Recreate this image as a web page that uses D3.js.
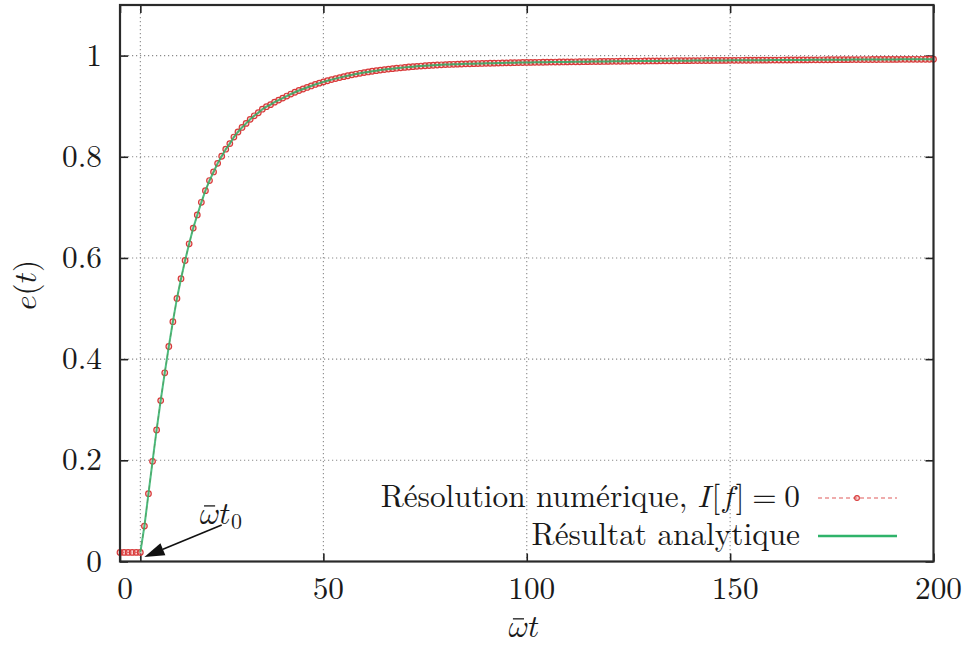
<!DOCTYPE html>
<html><head><meta charset="utf-8">
<script src="https://cdn.jsdelivr.net/npm/d3@7"></script>
<style>
html,body{margin:0;padding:0;background:#fff;}
</style></head>
<body><svg id="chart" width="966" height="646"></svg>
<script>
// ---- data ----
const tValues = d3.range(0, 201); // ω̄t sample instants (one per unit)
const eNumeric = [
  0.018,0.018,0.018,0.018,0.018,0.018,0.070,0.134,0.198,0.260,
  0.318,0.373,0.425,0.474,0.520,0.559,0.595,0.628,0.659,0.685,
  0.710,0.733,0.753,0.770,0.787,0.801,0.815,0.826,0.839,0.849,
  0.858,0.866,0.874,0.881,0.887,0.894,0.899,0.903,0.908,0.912,
  0.916,0.920,0.924,0.9275,0.931,0.934,0.937,0.940,0.943,0.9455,
  0.948,0.9503,0.9525,0.9545,0.9565,0.9584,0.9602,0.9619,0.9635,0.965,
  0.9664,0.9677,0.969,0.9702,0.9713,0.9723,0.9733,0.9742,0.9751,0.9759,
  0.9767,0.9774,0.9781,0.9787,0.9793,0.9799,0.9804,0.9809,0.9814,0.9818,
  0.9822,0.9825,0.9828,0.9831,0.9834,0.9837,0.9839,0.9841,0.9843,0.9845,
  0.9847,0.9849,0.9851,0.9853,0.9855,0.9857,0.9858,0.9859,0.9861,0.9863,
  0.9864,0.9865,0.9866,0.9867,0.9868,0.9870,0.9871,0.9872,0.9873,0.9874,
  0.9875,0.9876,0.9877,0.9878,0.9879,0.9880,0.9881,0.9882,0.9883,0.9884,
  0.9885,0.9886,0.9887,0.9888,0.9889,0.9890,0.9891,0.9891,0.9892,0.9893,
  0.9894,0.9894,0.9895,0.9896,0.9896,0.9897,0.9898,0.9898,0.9899,0.9900,
  0.9900,0.9901,0.9901,0.9902,0.9903,0.9903,0.9904,0.9904,0.9905,0.9905,
  0.9906,0.9906,0.9907,0.9907,0.9908,0.9908,0.9909,0.9909,0.9910,0.9910,
  0.9911,0.9911,0.9912,0.9912,0.9913,0.9913,0.9914,0.9914,0.9915,0.9915,
  0.9916,0.9916,0.9917,0.9917,0.9918,0.9918,0.9919,0.9919,0.9920,0.9920,
  0.9921,0.9921,0.9922,0.9922,0.9922,0.9923,0.9923,0.9924,0.9924,0.9924,
  0.9925,0.9925,0.9926,0.9926,0.9926,0.9927,0.9927,0.9927,0.9928,0.9928,
  0.9928
];
const t0 = 5;                       // onset ω̄t0
const xTicks = [0, 50, 100, 150, 200];
const xGrid = [t0, 50, 100, 150];
const yTicks = [0, 0.2, 0.4, 0.6, 0.8, 1];
const yTickLabels = ["0", "0.2", "0.4", "0.6", "0.8", "1"];
const legendLabels = ["Résolution numérique, \u{1D43C}[\u{1D453}]\u2005=\u20050", "Résultat analytique"];
const xDomain = [0, 200], yDomain = [0, 1.1];
const arrowFrom = [25, 0.072], arrowTo = [6, 0.009], arrowLabelPos = [19.6, 0.074];

// ---- layout ----
const L = 120, R = 933.5, T = 5, B = 561.5;
const FS = 31.3;
const FONT = '"Latin Modern Roman","Latin Modern Math","STIX Two Math","Liberation Serif",serif';
const MATHFONT = '"Latin Modern Math","STIX Two Math","Latin Modern Roman","Liberation Serif",serif';
const svg = d3.select("#chart");
const ink = "#1a1a1a";
const x = d3.scaleLinear().domain(xDomain).range([L, R]);
const y = d3.scaleLinear().domain(yDomain).range([B, T]);

const numeric = tValues.map((t, i) => ({t, e: eNumeric[i]}));
const analytic = numeric.filter(d => d.t >= t0);

function txt(sel) { return sel.style("font-family", FONT).attr("fill", ink); }

// grid
const grid = svg.append("g").attr("stroke", "#8a8a8a").attr("stroke-width", 1.1)
  .attr("stroke-dasharray", "1.2,2.8");
grid.selectAll("line.gx").data(xGrid).join("line")
  .attr("x1", d => x(d)).attr("x2", d => x(d)).attr("y1", T).attr("y2", B);
grid.selectAll("line.gy").data(yTicks.filter(v => v > 0)).join("line")
  .attr("y1", d => y(d)).attr("y2", d => y(d)).attr("x1", L).attr("x2", R);

// axes with inward ticks (mirrored)
const tickLen = 8;
const axB = svg.append("g").attr("transform", `translate(0,${B})`)
  .call(d3.axisBottom(x).tickValues([...xTicks, t0]).tickSizeInner(-tickLen).tickSizeOuter(0).tickFormat(""));
const axT = svg.append("g").attr("transform", `translate(0,${T})`)
  .call(d3.axisTop(x).tickValues([...xTicks, t0]).tickSizeInner(-tickLen).tickSizeOuter(0).tickFormat(""));
const axL = svg.append("g").attr("transform", `translate(${L},0)`)
  .call(d3.axisLeft(y).tickValues(yTicks).tickSizeInner(-tickLen).tickSizeOuter(0).tickFormat(""));
const axR = svg.append("g").attr("transform", `translate(${R},0)`)
  .call(d3.axisRight(y).tickValues(yTicks).tickSizeInner(-tickLen).tickSizeOuter(0).tickFormat(""));
[axB, axT, axL, axR].forEach(a => {
  a.select(".domain").remove();
  a.selectAll(".tick line").attr("stroke", "#222").attr("stroke-width", 1.6);
});

// tick labels
svg.append("g").selectAll("text").data(xTicks).join("text")
  .attr("x", d => x(d) + 5).attr("y", B + 37).attr("text-anchor", "middle")
  .attr("font-size", FS).call(txt).text(d => d);
svg.append("g").selectAll("text").data(yTicks).join("text")
  .attr("x", L - 18).attr("y", d => y(d) + 10).attr("text-anchor", "end")
  .attr("font-size", FS).call(txt).text((d, i) => yTickLabels[i]);

const line = d3.line().x(d => x(d.t)).y(d => y(d.e));

// numeric series: dashed red line + circles
svg.append("path").datum(numeric).attr("d", line).attr("fill", "none")
  .attr("stroke", "#e05a5a").attr("stroke-width", 1.1).attr("stroke-dasharray", "4,3");
svg.append("g").selectAll("circle").data(numeric).join("circle")
  .attr("cx", d => x(d.t)).attr("cy", d => y(d.e)).attr("r", 2.8)
  .attr("fill", "rgba(240,140,140,0.35)").attr("stroke", "#d83a3a").attr("stroke-width", 1.2);

// analytic series (drawn after, as in the original plot order)
svg.append("path").datum(analytic).attr("d", line).attr("fill", "none")
  .attr("stroke", "#2fb36a").attr("stroke-width", 2.0).attr("stroke-opacity", 0.85);

// frame
svg.append("rect").attr("x", L).attr("y", T).attr("width", R - L).attr("height", B - T)
  .attr("fill", "none").attr("stroke", "#2a2a2a").attr("stroke-width", 2.2);

// math-italic omega with bar, followed by italic t and optional subscript
function omegaBar(g, px, py, size, sub, anchorMiddle) {
  const str = "\u{1D714}\u{1D461}";
  const t = g.append("text").attr("x", px).attr("y", py).attr("font-size", size).call(txt)
    .style("font-family", MATHFONT).text(str);
  const n = t.node();
  let bb = n.getBBox();
  if (anchorMiddle) { t.attr("x", px - bb.width / 2); bb = n.getBBox(); }
  const w = bb.width;
  const sx = bb.x;
  g.append("line").attr("x1", sx + 0.14 * w).attr("x2", sx + 0.5 * w)
    .attr("y1", py - size * 0.58).attr("y2", py - size * 0.58)
    .attr("stroke", ink).attr("stroke-width", 1.3);
  if (sub) g.append("text").attr("x", bb.x + bb.width + 0.5).attr("y", py + size * 0.17)
    .attr("font-size", size * 0.7).call(txt).text(sub);
  return t;
}

// axis titles
svg.append("text").attr("transform", "translate(36,285) rotate(-90)")
  .attr("text-anchor", "middle").attr("font-size", FS).call(txt)
  .text("\u{1D452}(\u{1D461})");
omegaBar(svg, 524, 637, FS, null, true);

// annotation arrow
const ax1 = x(arrowFrom[0]), ay1 = y(arrowFrom[1]), ax2 = x(arrowTo[0]), ay2 = y(arrowTo[1]);
const ang = Math.atan2(ay2 - ay1, ax2 - ax1), hl = 20, hw = 6.5;
const bx = ax2 - hl * Math.cos(ang), by = ay2 - hl * Math.sin(ang);
svg.append("line").attr("x1", ax1).attr("y1", ay1).attr("x2", bx).attr("y2", by)
  .attr("stroke", "#111").attr("stroke-width", 1.6);
svg.append("path").attr("fill", "#111")
  .attr("d", `M${ax2},${ay2}L${bx - hw * Math.sin(ang)},${by + hw * Math.cos(ang)}L${bx + hw * Math.sin(ang)},${by - hw * Math.cos(ang)}Z`);
omegaBar(svg, x(arrowLabelPos[0]), y(arrowLabelPos[1]), FS, "0", false);

// legend
const lg = svg.append("g");
lg.append("text").attr("x", 800).attr("y", 507).attr("text-anchor", "end")
  .attr("font-size", FS).call(txt).text(legendLabels[0]);
lg.append("text").attr("x", 800).attr("y", 545).attr("text-anchor", "end").attr("font-size", FS)
  .call(txt).text(legendLabels[1]);
lg.append("line").attr("x1", 818).attr("x2", 897).attr("y1", 498).attr("y2", 498)
  .attr("stroke", "#e05a5a").attr("stroke-width", 1.1).attr("stroke-dasharray", "4,3");
lg.append("circle").attr("cx", 857).attr("cy", 498).attr("r", 2.4)
  .attr("fill", "rgba(240,140,140,0.35)").attr("stroke", "#d83a3a").attr("stroke-width", 1.1);
lg.append("line").attr("x1", 818).attr("x2", 897).attr("y1", 536).attr("y2", 536)
  .attr("stroke", "#2fb36a").attr("stroke-width", 2.6);
</script></body></html>
